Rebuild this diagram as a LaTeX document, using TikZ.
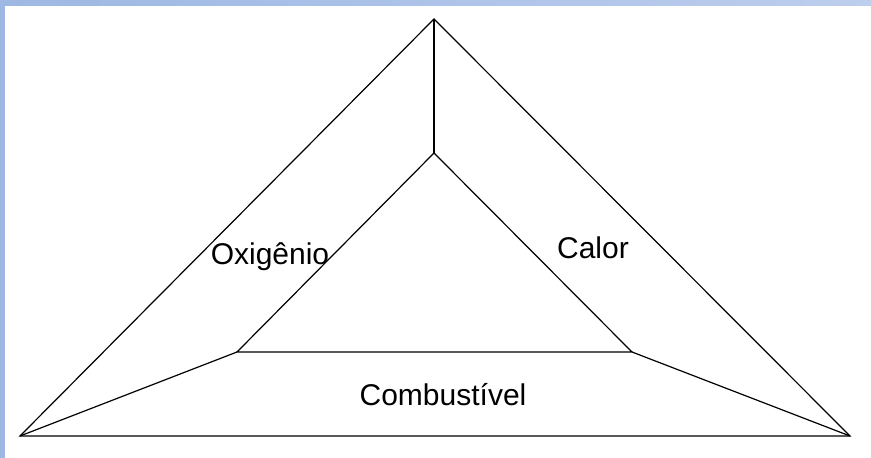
\documentclass[tikz,border=0pt]{standalone}
\usepackage{fontspec}
\setmainfont{Liberation Sans}
\definecolor{frameL}{HTML}{9DB8E3}
\definecolor{frameR}{HTML}{BDCEEE}
\begin{document}
\begin{tikzpicture}[x=1pt,y=-1pt,
  edge/.style={draw=black,line width=1.2pt,line join=miter},
  lbl/.style={font=\fontsize{30}{33}\selectfont,text=black,inner sep=0pt,anchor=base}]
\useasboundingbox (0,0) rectangle (871,458);
\fill[white] (0,0) rectangle (871,458);
\shade[left color=frameL,right color=frameR] (0,0) rectangle (871,5);
\fill[frameL] (0,0) rectangle (5,458);
% outer
\coordinate (A) at (434,19);
\coordinate (BL) at (20,436);
\coordinate (BR) at (850,436);
% inner
\coordinate (iA) at (434,153);
\coordinate (iL) at (237,352);
\coordinate (iR) at (632,352);
\draw[edge] (A) -- (BL) -- (BR) -- cycle;
\draw[edge] (iA) -- (iL) -- (iR) -- cycle;
\draw[edge] (A) -- (iA);
\draw[edge] (iL) -- (BL);
\draw[edge] (iR) -- (BR);
\node[lbl] (ox) at (270,264) {Oxigênio};
\node[lbl] (ca) at (593,258) {Calor};
\node[lbl] (co) at (443,405) {Combustível};
\end{tikzpicture}
\end{document}
